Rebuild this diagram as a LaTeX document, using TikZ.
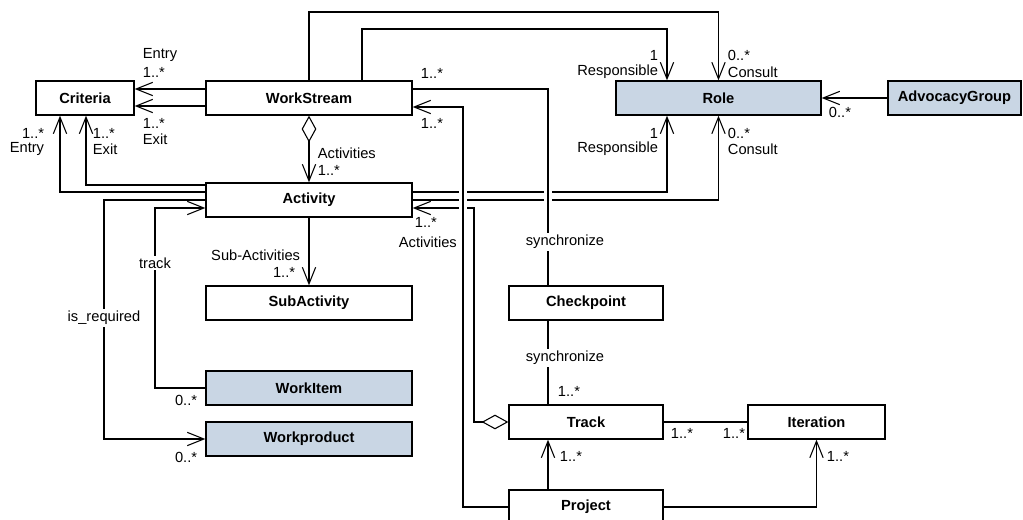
\documentclass[tikz,border=0pt]{standalone}
\usepackage{fontspec}
\setmainfont{Liberation Sans}
\usetikzlibrary{arrows.meta}
\definecolor{roleblue}{RGB}{201,214,228}
\tikzset{
  cls/.style={draw, line width=1pt, fill=white, inner sep=0pt, minimum height=25.5pt, font=\fontsize{11}{13}\selectfont\bfseries},
  shaded/.style={cls, fill=roleblue},
  lbl/.style={inner sep=0.5pt, font=\fontsize{11}{13}\selectfont},
  gaplbl/.style={lbl, fill=white, inner sep=1.5pt},
  link/.style={line width=0.8pt},
  assoc/.style={link, -{Straight Barb[length=12.5pt,width=10pt]}},
  aggr/.style={link, {Diamond[open,length=20pt,width=11pt]}-{Straight Barb[length=12.5pt,width=10pt]}},
  bridge/.style={preaction={draw=white, line width=6pt, -, shorten <=2pt, shorten >=2pt}}
}
\begin{document}
\begin{tikzpicture}[x=0.75pt,y=0.75pt,yscale=-1,xscale=1]
  \useasboundingbox (0,0) rectangle (1023,520);

  %Classes
  \node[cls, minimum width=73.5pt] (Criteria) at (85,98) {Criteria};
  \node[cls, minimum width=154.5pt] (WorkStream) at (309,98) {WorkStream};
  \node[cls, minimum width=154.5pt] (Activity) at (309,200) {Activity};
  \node[cls, minimum width=154.5pt] (SubActivity) at (309,303) {SubActivity};
  \node[shaded, minimum width=154.5pt] (WorkItem) at (309,388) {WorkItem};
  \node[shaded, minimum width=154.5pt] (Workproduct) at (309,439) {Workproduct};
  \node[shaded, minimum width=153.75pt] (Role) at (718.5,98) {Role};
  \node[shaded, minimum width=99.75pt] (AdvocacyGroup) at (954.5,98) {AdvocacyGroup};
  \node[cls, minimum width=115.5pt] (Checkpoint) at (586,303) {Checkpoint};
  \node[cls, minimum width=115.5pt] (Track) at (586,422) {Track};
  \node[cls, minimum width=102.75pt] (Iteration) at (816.5,422) {Iteration};
  \node[cls, minimum width=115.5pt] (Project) at (586,507) {Project};

  %Criteria
  \draw[assoc] (WorkStream.west |- 0,89) -- (Criteria.east |- 0,89);
  \draw[assoc] (WorkStream.west |- 0,106) -- (Criteria.east |- 0,106);
  \draw[assoc] (Activity.west |- 0,192) -| (Criteria.south -| 60,0);
  \draw[assoc] (Activity.west |- 0,185) -| (Criteria.south -| 86,0);

  %Role
  \draw[assoc] (WorkStream.north -| 362,0) |- (667,29) -- (Role.north -| 667,0);
  \draw[assoc] (WorkStream.north) |- (Role.north |- 0,12) -- (Role.north);
  \draw[assoc] (Activity.east |- 0,192) -| (Role.south -| 667,0);
  \draw[assoc] (Activity.east) -| (Role.south);
  \draw[assoc] (AdvocacyGroup.west) -- (Role.east);

  %Activity
  \draw[aggr] (WorkStream.south) -- (Activity.north);
  \draw[assoc] (Activity.south) -- (SubActivity.north);
  \draw[assoc] (WorkItem.west) -| (155,208) -- (Activity.west |- 0,208);
  \draw[assoc] (Activity.west) -| (104,439) -- (Workproduct.west);

  %Track
  \draw[aggr] (Track.west) -| (474,208) -- (Activity.east |- 0,208);
  \draw[link] (Track.east) -- (Iteration.west);
  \draw[assoc] (Project.north -| 548,0) -- (Track.south -| 548,0);
  \draw[assoc] (Project.east) -| (Iteration.south);
  \draw[link] (Checkpoint.south -| 548,0) -- (Track.north -| 548,0);

  %Lines that jump over the others
  \draw[assoc, bridge] (Project.west) -| (463,107) -- (WorkStream.east |- 0,107);
  \draw[link, bridge] (WorkStream.east |- 0,89) -| (Checkpoint.north -| 548,0);

  % Text Node
  \node[lbl, anchor=west] (cEntry) at (142,55) {Entry};
  \node[lbl, anchor=west] (cEntryM) at (142,72) {1..*};
  \node[lbl, anchor=west] (cExitM) at (142,123) {1..*};
  \node[lbl, anchor=west] (cExit) at (142,139) {Exit};
  \node[lbl, anchor=east] (aEntryM) at (45,133) {1..*};
  \node[lbl, anchor=east] (aEntry) at (45,149) {Entry};
  \node[lbl, anchor=west] (aExitM) at (92,133) {1..*};
  \node[lbl, anchor=west] (aExit) at (92,149) {Exit};
  % Text Node
  \node[lbl, anchor=west] (wsAct) at (317,153) {Activities};
  \node[lbl, anchor=west] (wsActM) at (317,170) {1..*};
  \node[lbl, anchor=east] (subAct) at (301,255) {Sub-Activities};
  \node[lbl, anchor=east] (subActM) at (296,272) {1..*};
  \node[gaplbl] (trackLbl) at (155,263) {track};
  \node[gaplbl] (reqLbl) at (104,318) {is\_required};
  \node[lbl, anchor=east] (itemM) at (198,400) {0..*};
  \node[lbl, anchor=east] (prodM) at (198,457) {0..*};
  % Text Node
  \node[lbl, anchor=east] (rTopM) at (659,55) {1};
  \node[lbl, anchor=east] (rTop) at (659,72) {Responsible};
  \node[lbl, anchor=west] (cTopM) at (727,55) {0..*};
  \node[lbl, anchor=west] (cTop) at (727,72) {Consult};
  \node[lbl, anchor=east] (rBotM) at (659,133) {1};
  \node[lbl, anchor=east] (rBot) at (659,149) {Responsible};
  \node[lbl, anchor=west] (cBotM) at (727,133) {0..*};
  \node[lbl, anchor=west] (cBot) at (727,149) {Consult};
  \node[lbl, anchor=west] (advM) at (828,112) {0..*};
  % Text Node
  \node[lbl, anchor=west] (syncWsM) at (420,73) {1..*};
  \node[lbl, anchor=west] (projWsM) at (420,123) {1..*};
  \node[lbl, anchor=west] (trActM) at (414,222) {1..*};
  \node[lbl, anchor=west] (trAct) at (398,242) {Activities};
  \node[gaplbl] (syncA) at (565,242) {synchronize};
  \node[gaplbl] (syncB) at (565,358) {synchronize};
  \node[lbl, anchor=west] (syncTrM) at (557,391) {1..*};
  \node[lbl, anchor=west] (projTrM) at (559,456) {1..*};
  \node[lbl, anchor=west] (projItM) at (826,456) {1..*};
  \node[lbl, anchor=west] (trItM) at (670,433) {1..*};
  \node[lbl, anchor=west] (itTrM) at (722,433) {1..*};
\end{tikzpicture}
\end{document}
